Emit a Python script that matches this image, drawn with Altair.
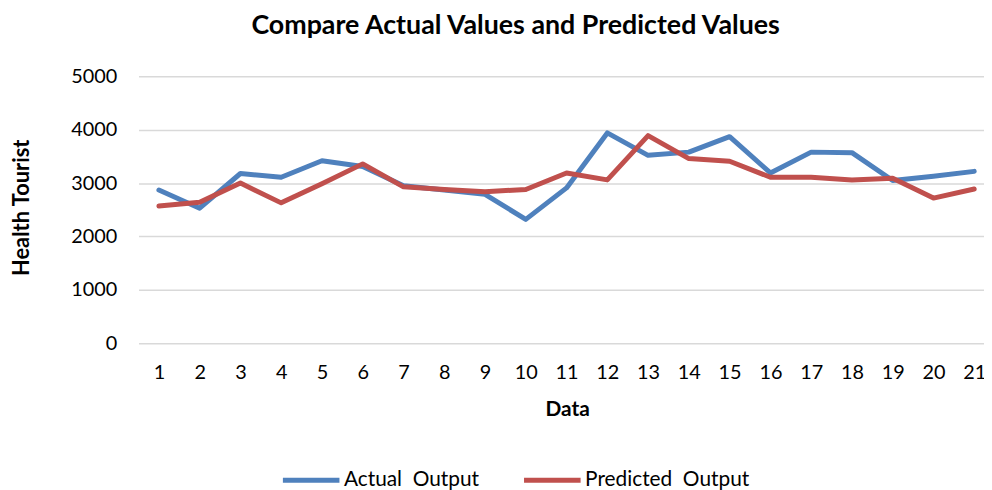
import altair as alt
import pandas as pd

categories = list(range(1, 22))
actual = [2870, 2530, 3180, 3110, 3420, 3310, 2950, 2870, 2790, 2320, 2910,
          3940, 3520, 3580, 3870, 3190, 3580, 3570, 3050, 3130, 3220]
predicted = [2570, 2640, 3000, 2630, 2990, 3360, 2930, 2880, 2840, 2880, 3190,
             3060, 3890, 3460, 3410, 3110, 3110, 3060, 3090, 2720, 2890]
series_names = ["Actual\u00a0\u00a0Output", "Predicted\u00a0\u00a0Output"]
y_ticks = [0, 1000, 2000, 3000, 4000, 5000]

rows = []
for c, a, p in zip(categories, actual, predicted):
    rows.append({"Data": c, "value": a, "series": series_names[0]})
    rows.append({"Data": c, "value": p, "series": series_names[1]})
df = pd.DataFrame(rows)

FONT = "Lato"

chart = alt.Chart(df).mark_line(strokeWidth=5, strokeCap="round", strokeJoin="round").encode(
    x=alt.X("Data:Q",
            scale=alt.Scale(domain=[0.5, 21.24], nice=False, zero=False),
            axis=alt.Axis(values=categories, format="d", grid=False, domain=False, ticks=False,
                          labelPadding=20, labelFontSize=20, labelFont=FONT, labelColor="#000000",
                          labelOverlap=False, labelFlush=False,
                          title="Data", titleFont=FONT, titleFontSize=21, titleFontWeight="bold",
                          titleColor="#000000", titleX=432, titleY=67, titleBaseline="middle",
                          titleAnchor="start", titleAlign="center")),
    y=alt.Y("value:Q",
            scale=alt.Scale(domain=[0, 5000], nice=False),
            axis=alt.Axis(values=y_ticks, format="d", grid=True, gridColor="#D9D9D9", gridWidth=1.5,
                          domain=False, ticks=False, labelPadding=22, labelFontSize=20,
                          labelFont=FONT, labelColor="#000000",
                          title="Health Tourist", titleFont=FONT, titleFontSize=22,
                          titleFontWeight="bold", titleColor="#000000", titleAngle=270,
                          titleX=-118, titleY=132, titleBaseline="middle", titleAlign="center",
                          titleAnchor="start")),
    color=alt.Color("series:N",
                    scale=alt.Scale(domain=series_names, range=["#4F81BD", "#C0504D"]),
                    legend=alt.Legend(title=None, orient="none", direction="horizontal",
                                      legendX=143, legendY=376, symbolType="stroke",
                                      symbolStrokeWidth=5, symbolSize=3249,
                                      labelFont=FONT, labelFontSize=21, labelColor="#000000",
                                      labelOffset=2, columnPadding=34, labelLimit=300)),
).properties(
    width=852,
    height=269,
    title=alt.TitleParams("Compare Actual Values and Predicted Values", font=FONT, fontSize=27,
                          fontWeight="bold", color="#000000", anchor="middle", dx=-46, offset=27),
    autosize=alt.AutoSizeParams(type="none"),
    padding={"left": 131.5, "top": 67, "right": 0, "bottom": 146},
).configure_view(stroke=None)

chart.save("out.html", embed_options={"renderer": "svg", "actions": False})
